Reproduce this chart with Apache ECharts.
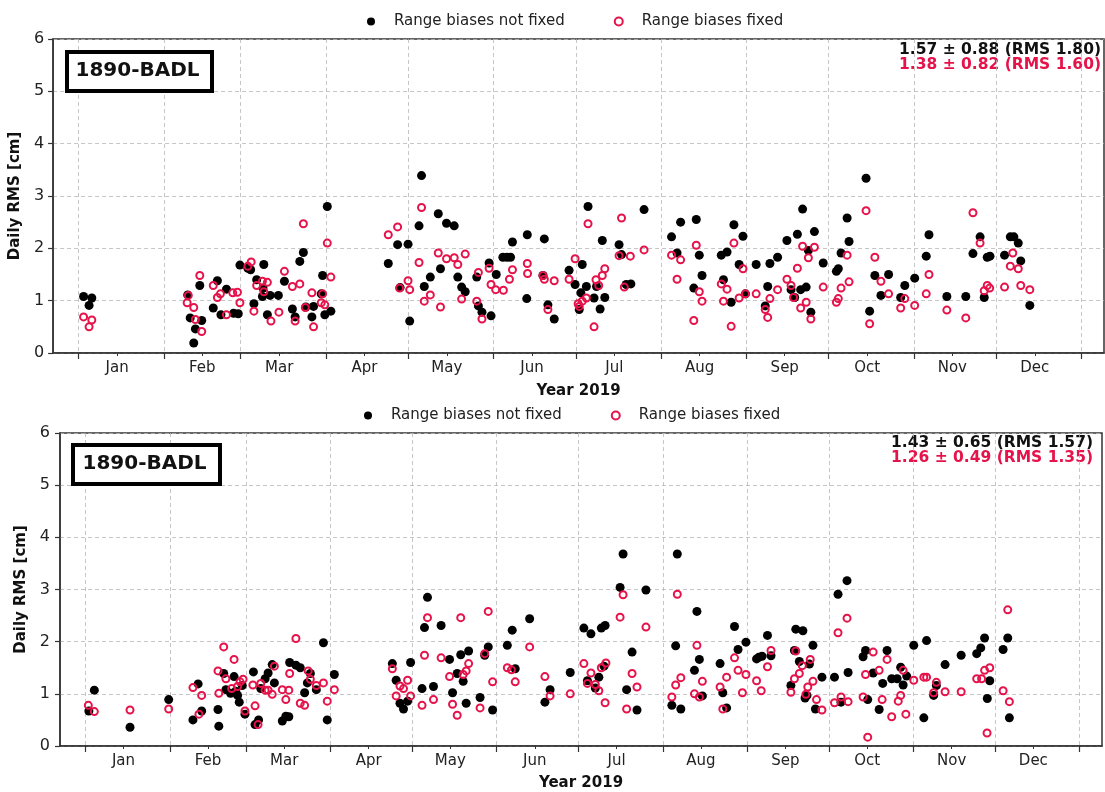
<!DOCTYPE html>
<html>
<head>
<meta charset="utf-8">
<script src="https://cdn.jsdelivr.net/npm/echarts@6/dist/echarts.min.js"></script>
<style>
html,body{margin:0;padding:0;background:#fff;}
#chart{width:1105px;height:792px;}
</style>
</head>
<body>
<div id="chart"></div>
<script>
// x = day of year 2019 (0 = 1 Jan), y = daily RMS [cm]
const monthNames = ['Jan','Feb','Mar','Apr','May','Jun','Jul','Aug','Sep','Oct','Nov','Dec'];
const monthStarts = [0,31,59,90,120,151,181,212,243,273,304,334,365];
const monthMids = [14,45,73,104,134,165,195,226,257,287,318,348];
const yTicks = [0,1,2,3,4,5,6];
const stationName = '1890-BADL';
const seriesNames = ['Range biases not fixed','Range biases fixed'];
const panel1Stats = ['1.57 \u00b1 0.88 (RMS 1.80)','1.38 \u00b1 0.82 (RMS 1.60)'];
const panel2Stats = ['1.43 \u00b1 0.65 (RMS 1.57)','1.26 \u00b1 0.49 (RMS 1.35)'];

const panel1NotFixed = [[1.8,1.08],[3.8,0.91],[4.8,1.05],
[39.7,1.11],[40.6,0.67],[41.9,0.19],[42.5,0.46],[44.1,1.29],[44.8,0.62],[49.0,0.86],[50.5,1.38],[51.8,0.73],[53.8,1.22],[56.4,0.76],[58.1,0.75],[58.7,1.68],[61.6,1.62],[62.6,1.59],[63.8,0.94],[64.8,1.40],[67.4,1.69],[67.1,1.24],[66.9,1.08],[68.7,0.73],[69.7,1.10],[72.7,1.10],[74.9,1.37],[77.8,0.84],[78.8,0.69],[80.5,1.75],[81.8,1.92],[82.7,0.88],[84.9,0.69],[85.5,0.89],[88.3,1.13],[88.8,1.48],[89.6,0.73],[90.5,2.80],[91.8,0.80],
[112.7,1.71],[116.1,2.07],[117.0,1.25],[119.9,2.08],[120.5,0.61],[123.9,2.43],[124.8,3.39],[125.8,1.27],[128.0,1.45],[130.9,2.66],[131.7,1.61],[133.9,2.48],[136.7,2.43],[138.0,1.45],[139.4,1.26],[140.7,1.17],[144.9,1.45],[145.5,0.90],[146.8,0.78],[149.4,1.72],[150.1,0.71],[152.0,1.50],[154.4,1.83],[155.9,1.83],[157.2,1.83],[157.9,2.12],[163.3,2.26],[163.1,1.04],[169.5,2.18],[169.0,1.48],[170.8,0.92],[173.1,0.65],
[178.5,1.58],[180.7,1.31],[182.2,0.83],[182.8,1.15],[183.3,1.69],[184.8,1.27],[185.4,2.80],[187.6,1.05],[188.5,1.27],[189.8,0.84],[190.6,2.15],[191.5,1.06],[196.7,2.07],[197.6,1.88],[199.3,1.31],[201.0,1.32],[205.8,2.74],[215.8,2.22],[217.8,1.91],[219.1,2.50],[223.9,1.24],[224.8,2.55],[225.9,1.87],[226.9,1.48],[233.9,1.87],[234.7,1.40],[236.0,1.93],[237.5,0.97],[238.5,2.45],[240.4,1.69],[241.8,2.23],[242.7,1.13],[246.6,1.69],[249.9,0.90],[250.8,1.27],[251.6,1.71],[254.4,1.83],[257.8,2.15],[259.3,1.21],[260.6,1.06],[261.6,2.27],[262.8,1.21],[263.5,2.75],[264.8,1.26],[265.6,1.96],[266.5,0.78],[267.8,2.32],[271.0,1.72],[275.8,1.56],[276.5,1.61],[277.5,1.91],[279.7,2.58],[280.4,2.13],[286.6,3.34],[287.9,0.80],[289.8,1.48],[292.0,1.10],[294.8,1.50],[299.2,1.06],[300.7,1.29],[304.3,1.43],[308.5,1.85],[309.5,2.26],[316.0,1.08],[322.9,1.08],[325.5,1.90],[328.1,2.22],[329.6,1.06],[330.7,1.83],[331.7,1.85],[337.0,1.87],[339.1,2.22],[340.4,2.22],[342.0,2.10],[342.9,1.76],[346.2,0.91]];

const panel1Fixed = [[1.8,0.69],[3.8,0.50],[4.8,0.63],
[39.5,0.96],[39.9,1.10],[41.9,0.87],[42.5,0.64],[44.1,1.48],[44.8,0.41],[49.0,1.29],[50.5,1.06],[51.6,1.13],[53.8,0.73],[56.1,1.15],[57.8,1.16],[58.7,0.96],[61.6,1.66],[62.8,1.74],[63.8,0.80],[64.8,1.29],[66.9,1.37],[67.4,1.17],[68.7,1.35],[70.0,0.61],[72.9,0.78],[74.9,1.56],[77.8,1.27],[78.8,0.61],[80.5,1.32],[81.8,2.47],[82.5,0.87],[84.9,1.15],[85.5,0.50],[88.3,0.96],[88.8,1.13],[89.6,0.92],[90.5,2.10],[91.8,1.45],
[112.7,2.26],[116.1,2.41],[116.8,1.24],[119.9,1.38],[120.5,1.21],[123.9,1.73],[124.8,2.78],[125.8,0.99],[128.0,1.11],[130.9,1.91],[131.7,0.88],[133.9,1.80],[136.7,1.82],[138.0,1.69],[139.4,1.03],[140.7,1.89],[144.9,0.99],[145.5,1.54],[146.8,0.65],[149.4,1.62],[150.1,1.31],[151.8,1.21],[154.6,1.20],[156.8,1.41],[157.9,1.59],[163.3,1.71],[163.4,1.52],[169.0,1.48],[169.5,1.41],[170.8,0.83],[173.1,1.38],
[178.5,1.41],[180.7,1.80],[181.8,0.94],[182.2,0.89],[183.3,0.99],[184.8,1.05],[185.4,2.47],[187.6,0.50],[188.3,1.40],[189.3,1.29],[190.6,1.48],[191.5,1.61],[196.7,1.86],[197.6,2.58],[198.6,1.26],[200.8,1.85],[205.8,1.97],[215.8,1.87],[217.8,1.41],[219.1,1.78],[223.9,0.62],[224.8,2.06],[225.9,1.17],[226.9,0.99],[233.9,1.32],[234.7,0.99],[236.0,1.22],[237.5,0.51],[238.5,2.10],[240.4,1.05],[241.8,1.61],[242.7,1.13],[246.6,1.13],[249.9,0.83],[250.8,0.68],[251.6,1.04],[254.4,1.21],[257.8,1.41],[259.3,1.29],[260.2,1.06],[261.6,1.62],[262.8,0.86],[263.5,2.04],[264.8,0.97],[265.6,1.82],[266.5,0.65],[267.8,2.02],[271.0,1.26],[275.8,0.97],[276.5,1.04],[277.5,1.24],[279.7,1.87],[280.4,1.36],[286.6,2.72],[287.9,0.56],[289.8,1.83],[292.0,1.37],[294.8,1.13],[299.2,0.86],[300.7,1.04],[304.3,0.91],[308.5,1.13],[309.5,1.50],[316.0,0.82],[322.9,0.67],[325.5,2.68],[328.1,2.10],[329.6,1.19],[330.7,1.29],[331.6,1.24],[337.0,1.26],[339.1,1.66],[340.0,1.91],[342.0,1.61],[342.9,1.29],[346.2,1.21]];

const panel2NotFixed = [[1.3,0.67],[3.3,1.07],[16.4,0.36],[30.6,0.89],[39.5,0.50],[41.4,1.19],[42.7,0.67],[48.7,0.70],[49.0,0.38],[50.8,1.39],[51.6,1.08],[53.3,1.01],[54.6,1.33],[55.2,1.05],[55.9,0.97],[56.5,0.84],[57.6,1.16],[58.6,0.61],[61.7,1.42],[62.3,0.41],[63.6,0.50],[64.4,1.10],[66.0,1.29],[67.1,1.40],[68.6,1.56],[69.4,1.21],[72.3,0.48],[73.6,0.57],[74.7,0.56],[75.0,1.60],[77.3,1.55],[78.9,1.50],[80.5,1.02],[81.5,1.21],[82.6,1.39],[84.8,1.08],[87.4,1.98],[88.8,0.50],[91.4,1.37],
[112.7,1.58],[114.1,1.26],[115.5,0.82],[116.8,0.71],[118.3,0.86],[119.4,1.60],[123.6,1.10],[124.5,2.27],[125.6,2.85],[127.8,1.14],[130.6,2.31],[133.7,1.66],[134.8,1.02],[136.5,1.39],[137.8,1.75],[138.7,1.24],[139.8,0.82],[140.7,1.82],[144.9,0.93],[146.6,1.74],[147.9,1.90],[149.5,0.69],[154.9,1.93],[156.7,2.22],[157.8,1.48],[163.1,2.44],[168.7,0.84],[170.6,1.08],
[178.0,1.41],[183.0,2.26],[184.3,1.25],[185.6,2.15],[187.2,1.11],[188.5,1.32],[189.4,2.26],[190.8,2.31],[190.4,1.53],[196.3,3.04],[197.4,3.68],[198.7,1.08],[200.7,1.80],[202.5,0.69],[205.8,2.99],[215.3,0.78],[216.7,1.92],[217.3,3.68],[218.6,0.71],[223.6,1.45],[224.5,2.58],[225.4,1.66],[226.5,0.96],[233.0,1.58],[234.0,1.02],[235.4,0.73],[238.3,2.29],[239.6,1.85],[242.5,1.99],[246.4,1.67],[247.2,1.70],[248.4,1.72],[250.4,2.12],[251.7,1.73],[259.0,1.16],[260.3,1.83],[260.8,2.24],[262.1,1.62],[263.4,2.21],[264.2,0.92],[264.9,0.97],[265.8,1.57],[267.1,1.93],[268.0,0.71],[270.4,1.32],[275.0,1.32],[276.3,2.91],[277.4,0.84],[279.6,3.17],[280.0,1.41],[285.5,1.71],[286.4,1.83],[287.2,0.89],[289.2,1.40],[291.4,0.70],[292.7,1.20],[294.3,1.83],[296.0,1.29],[298.0,1.29],[299.3,1.51],[300.2,1.17],[301.5,1.34],[304.1,1.93],[307.8,0.54],[308.8,2.02],[311.4,0.97],[312.4,1.16],[315.6,1.56],[321.5,1.74],[327.2,1.77],[328.7,1.88],[330.1,2.07],[331.1,0.91],[332.0,1.25],[336.9,1.85],[338.6,2.07],[339.2,0.54]];

const panel2Fixed = [[1.1,0.78],[3.3,0.66],[16.4,0.69],[30.6,0.71],[39.5,1.12],[41.7,0.61],[42.7,0.97],[48.7,1.44],[49.0,1.01],[50.8,1.90],[51.6,1.29],[53.7,1.10],[54.6,1.66],[55.9,1.14],[56.8,1.23],[57.9,1.28],[58.6,0.67],[61.5,1.17],[62.3,0.77],[63.4,0.41],[64.4,1.20],[66.0,1.07],[67.1,1.07],[68.6,0.99],[69.4,1.53],[72.3,1.08],[73.6,0.89],[74.7,1.07],[75.0,1.39],[77.3,2.06],[78.9,0.82],[80.5,0.78],[81.8,1.44],[82.6,1.28],[84.8,1.16],[87.4,1.21],[88.8,0.86],[91.4,1.08],
[112.7,1.48],[114.1,0.96],[115.5,1.15],[116.8,1.10],[118.3,1.26],[119.4,0.96],[123.6,0.78],[124.5,1.74],[125.6,2.46],[127.8,0.89],[130.6,1.69],[133.7,1.33],[134.8,0.80],[136.5,0.59],[137.8,2.46],[138.7,1.37],[139.8,1.44],[140.7,1.58],[144.9,0.73],[146.6,1.77],[147.9,2.58],[149.5,1.23],[154.9,1.50],[156.4,1.46],[157.8,1.23],[163.1,1.90],[168.7,1.33],[170.6,0.96],
[178.0,1.00],[183.0,1.58],[184.3,1.20],[185.6,1.40],[187.2,1.18],[188.5,1.06],[189.4,1.50],[190.8,0.83],[191.1,1.59],[196.3,2.47],[197.4,2.90],[198.7,0.71],[200.7,1.39],[202.5,1.13],[205.8,2.28],[215.3,0.94],[216.7,1.17],[217.3,2.91],[218.6,1.31],[223.6,1.00],[224.5,1.93],[225.4,0.94],[226.5,1.24],[233.0,1.13],[234.0,0.71],[235.4,1.32],[238.3,1.69],[239.6,1.45],[241.2,1.02],[242.5,1.37],[246.4,1.25],[248.1,1.06],[250.4,1.52],[251.7,1.83],[259.0,1.03],[260.3,1.29],[260.8,1.82],[262.1,1.39],[263.2,1.54],[264.5,0.99],[265.2,1.13],[266.1,1.66],[267.1,1.24],[268.4,0.89],[270.4,0.69],[275.0,0.83],[276.3,2.17],[277.4,0.94],[279.6,2.45],[280.0,0.85],[285.5,0.94],[286.4,1.37],[287.2,0.17],[289.2,1.80],[291.4,1.45],[292.5,0.89],[294.3,1.66],[296.0,0.56],[298.4,0.86],[299.3,0.97],[300.2,1.45],[301.2,0.61],[304.1,1.26],[307.8,1.32],[308.8,1.32],[311.4,1.02],[312.4,1.22],[315.6,1.04],[321.5,1.04],[327.2,1.29],[329.0,1.29],[330.1,1.45],[331.0,0.25],[332.0,1.50],[336.9,1.06],[338.6,2.61],[339.2,0.85]];

const RED = '#e5134a';
const FONT = 'DejaVu Sans';
const X_MIN = -9.3, X_MAX = 373.2;

const chart = echarts.init(document.getElementById('chart'), null, {renderer: 'canvas'});

function mainX(gridIndex, nameGap) {
  return {
    type: 'value', gridIndex: gridIndex, position: 'bottom', min: X_MIN, max: X_MAX,
    name: 'Year 2019', nameLocation: 'middle', nameGap: nameGap,
    nameTextStyle: {fontFamily: FONT, fontWeight: 'bold', fontSize: 15, color: '#111'},
    axisLine: {show: true, onZero: false, lineStyle: {color: '#333', width: 1.5}},
    axisTick: {show: true, customValues: monthStarts, length: 6, lineStyle: {color: '#333', width: 1.2}},
    axisLabel: {show: true, customValues: monthMids, margin: 8, fontFamily: FONT, fontSize: 15, color: '#222',
      formatter: function (v) { const i = monthMids.indexOf(Math.round(v)); return i >= 0 ? monthNames[i] : ''; }},
    splitLine: {show: true, lineStyle: {color: '#b8b8b8', width: 0.8, type: [4, 3]}}
  };
}
function minorX(gridIndex) {
  return {
    type: 'value', gridIndex: gridIndex, position: 'bottom', min: X_MIN, max: X_MAX,
    axisLine: {show: false, onZero: false},
    axisTick: {show: true, customValues: monthMids, length: 3, lineStyle: {color: '#333', width: 1}},
    axisLabel: {show: false},
    splitLine: {show: false}
  };
}
function yAx(gridIndex, nameGap, margin) {
  return {
    type: 'value', gridIndex: gridIndex, position: 'left', min: yTicks[0], max: yTicks[yTicks.length - 1], interval: 1,
    name: 'Daily RMS [cm]', nameLocation: 'middle', nameGap: nameGap,
    nameTextStyle: {fontFamily: FONT, fontWeight: 'bold', fontSize: 15, color: '#111'},
    axisLine: {show: true, onZero: false, lineStyle: {color: '#333', width: 1.5}},
    axisTick: {show: true, length: 5, lineStyle: {color: '#333', width: 1.2}},
    axisLabel: {margin: margin, fontFamily: FONT, fontSize: 16, color: '#222'},
    splitLine: {show: true, lineStyle: {color: '#b8b8b8', width: 0.8, type: [4, 3]}}
  };
}
function blackSeries(xi, yi, data) {
  return {name: seriesNames[0], type: 'scatter', xAxisIndex: xi, yAxisIndex: yi, data: data,
    symbol: 'circle', symbolSize: 9, itemStyle: {color: '#000', opacity: 1}, z: 3, silent: true};
}
function redSeries(xi, yi, data) {
  return {name: seriesNames[1], type: 'scatter', xAxisIndex: xi, yAxisIndex: yi, data: data,
    symbol: 'circle', symbolSize: 7, itemStyle: {color: 'rgba(255,255,255,0)', borderColor: RED, borderWidth: 2, opacity: 1}, z: 4, silent: true};
}
function legend(left, top) {
  return {left: left, top: top, itemWidth: 8, itemHeight: 8, itemGap: 49,
    data: [{name: seriesNames[0], icon: 'circle'}, {name: seriesNames[1], icon: 'circle'}],
    textStyle: {fontFamily: FONT, fontSize: 15, color: '#222', padding: [0, 0, 0, 14]}};
}
function statsText(right, y, lines) {
  return [
    {type: 'text', right: right, top: y - 9, style: {text: lines[0], fill: '#111', font: 'bold 15.5px "DejaVu Sans"', textAlign: 'right'}},
    {type: 'text', right: right, top: y + 6, style: {text: lines[1], fill: RED, font: 'bold 15.5px "DejaVu Sans"', textAlign: 'right'}}
  ];
}
function stationBox(x, y, w, h) {
  return [
    {type: 'rect', left: x, top: y, shape: {width: w, height: h}, style: {fill: '#fff', stroke: '#000', lineWidth: 4}, z: 10},
    {type: 'text', x: x + w / 2, y: y + h / 2 + 1, style: {text: stationName, fill: '#111', font: 'bold 20px "DejaVu Sans"', textAlign: 'center', textVerticalAlign: 'middle'}, z: 11}
  ];
}

const option = {
  backgroundColor: '#fff',
  animation: false,
  grid: [
    {left: 53, top: 39, width: 1051, height: 314, show: true, borderColor: '#333', borderWidth: 1.5, backgroundColor: 'transparent'},
    {left: 60, top: 433, width: 1042, height: 313, show: true, borderColor: '#333', borderWidth: 1.5, backgroundColor: 'transparent'}
  ],
  legend: [legend(362, 9), legend(359, 403)],
  xAxis: [mainX(0, 31), minorX(0), mainX(1, 30), minorX(1)],
  yAxis: [yAx(0, 24, 9), yAx(1, 28, 10)],
  series: [
    blackSeries(0, 0, panel1NotFixed), redSeries(0, 0, panel1Fixed),
    blackSeries(2, 1, panel2NotFixed), redSeries(2, 1, panel2Fixed)
  ],
  graphic: [].concat(
    stationBox(65, 50, 145, 39),
    stationBox(71, 443, 147, 39),
    statsText(4, 51, panel1Stats),
    statsText(12, 444, panel2Stats)
  )
};
chart.setOption(option);
</script>
</body>
</html>
